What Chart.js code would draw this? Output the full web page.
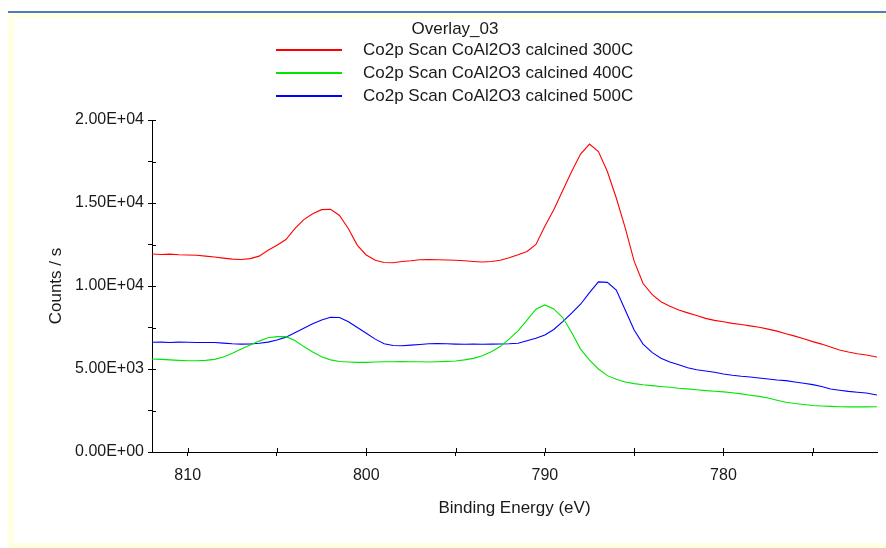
<!DOCTYPE html>
<html>
<head>
<meta charset="utf-8">
<title>Overlay_03</title>
<script src="https://cdn.jsdelivr.net/npm/chart.js@4.4.1/dist/chart.umd.min.js"></script>
<style>
  html, body { margin: 0; padding: 0; background: #fff; }
  body { width: 886px; height: 548px; position: relative; overflow: hidden; }
  .frame { position: absolute; left: 8px; top: 11px; right: 0; bottom: 0; background: #ffffe1; border-top: 2px solid #4d7cc4; }
  .panel { position: absolute; left: 6px; top: 5px; right: 0; bottom: 5px; background: #fff; }
  #spectra { position: absolute; left: 0; top: 0; }
</style>
</head>
<body>
<div class="frame"><div class="panel"></div></div>
<canvas id="spectra" width="886" height="548"></canvas>
<script>
// ---- Co2p overlay: three calcination temperatures ----
const chartTitle = 'Overlay_03';
const seriesLabels = [
  'Co2p Scan CoAl2O3 calcined 300C',
  'Co2p Scan CoAl2O3 calcined 400C',
  'Co2p Scan CoAl2O3 calcined 500C'
];
const seriesColors = ['#ff0000', '#00e600', '#0000ff'];

// binding energy (eV), high -> low
const energy = [
  812, 811.5, 811, 810.5, 810, 809.5, 809, 808.5, 808, 807.5,
  807, 806.5, 806, 805.5, 805, 804.5, 804, 803.5, 803, 802.5,
  802, 801.5, 801, 800.5, 800, 799.5, 799, 798.5, 798, 797.5,
  797, 796.5, 796, 795.5, 795, 794.5, 794, 793.5, 793, 792.5,
  792, 791.5, 791, 790.5, 790, 789.5, 789, 788.5, 788, 787.5,
  787, 786.5, 786, 785.5, 785, 784.5, 784, 783.5, 783, 782.5,
  782, 781.5, 781, 780.5, 780, 779.5, 779, 778.5, 778, 777.5,
  777, 776.5, 776, 775.5, 775, 774.5, 774, 773.5, 773, 772.5,
  772, 771.4
];

// counts / s, in thousands
const k300 = [
  11.93, 11.90, 11.92, 11.88, 11.87, 11.85, 11.80, 11.75, 11.68, 11.62,
  11.60, 11.65, 11.80, 12.15, 12.45, 12.80, 13.45, 14.00, 14.35, 14.60,
  14.62, 14.25, 13.45, 12.45, 11.87, 11.55, 11.42, 11.40, 11.48, 11.52,
  11.58, 11.60, 11.58, 11.57, 11.55, 11.52, 11.48, 11.45, 11.48, 11.55,
  11.70, 11.88, 12.08, 12.50, 13.60, 14.60, 15.75, 16.90, 17.95, 18.55,
  18.10, 16.90, 15.30, 13.50, 11.50, 10.15, 9.50, 9.05, 8.78, 8.55,
  8.38, 8.22, 8.05, 7.93, 7.85, 7.75, 7.68, 7.60, 7.52, 7.40,
  7.28, 7.12, 6.98, 6.82, 6.65, 6.50, 6.32, 6.15, 6.02, 5.92,
  5.84, 5.72
];
const k400 = [
  5.60, 5.58, 5.55, 5.52, 5.50, 5.50, 5.52, 5.58, 5.72, 5.95,
  6.20, 6.45, 6.68, 6.88, 6.95, 6.95, 6.72, 6.35, 6.02, 5.74,
  5.55, 5.45, 5.42, 5.40, 5.40, 5.42, 5.44, 5.44, 5.45, 5.44,
  5.44, 5.42, 5.44, 5.46, 5.48, 5.55, 5.64, 5.80, 6.04, 6.35,
  6.80, 7.30, 7.95, 8.60, 8.86, 8.62, 8.10, 7.20, 6.20, 5.54,
  5.00, 4.60, 4.38, 4.22, 4.12, 4.05, 4.00, 3.95, 3.90, 3.84,
  3.80, 3.75, 3.70, 3.66, 3.62, 3.57, 3.50, 3.42, 3.35, 3.25,
  3.12, 3.00, 2.92, 2.86, 2.80, 2.77, 2.75, 2.73, 2.72, 2.72,
  2.72, 2.73
];
const k500 = [
  6.61, 6.62, 6.60, 6.62, 6.61, 6.60, 6.60, 6.60, 6.56, 6.52,
  6.50, 6.51, 6.55, 6.62, 6.75, 6.92, 7.18, 7.45, 7.72, 7.95,
  8.12, 8.10, 7.85, 7.50, 7.15, 6.80, 6.52, 6.42, 6.40, 6.44,
  6.48, 6.52, 6.53, 6.52, 6.50, 6.49, 6.50, 6.49, 6.50, 6.51,
  6.52, 6.55, 6.70, 6.85, 7.05, 7.38, 7.85, 8.36, 8.90, 9.60,
  10.25, 10.22, 9.75, 8.55, 7.35, 6.50, 6.00, 5.65, 5.42, 5.25,
  5.08, 4.95, 4.88, 4.80, 4.70, 4.62, 4.56, 4.52, 4.46, 4.40,
  4.34, 4.30, 4.22, 4.14, 4.06, 3.95, 3.80, 3.72, 3.65, 3.60,
  3.55, 3.43
];

const xTickValues = [810, 805, 800, 795, 790, 785, 780, 775];
const xRange = [771.4, 812];
const yRange = [0, 20000];

const FONT = '"Liberation Sans", Arial, sans-serif';
const ink = '#1a1a1a';
const axisColor = '#000';

// "2.00E+04" style labels
function sci(v) {
  return v.toExponential(2).toUpperCase().replace(/E([+-])(\d)$/, 'E$10$2');
}

function toPoints(vals) {
  return energy.map((e, i) => ({ x: e, y: vals[i] * 1000 }));
}

// legend block under the title, one row per scan
const overlayLegend = {
  id: 'overlayLegend',
  afterDraw(chart) {
    const ctx = chart.ctx;
    ctx.save();
    ctx.font = '17px ' + FONT;
    ctx.fillStyle = ink;
    ctx.textBaseline = 'middle';
    ctx.textAlign = 'center';
    ctx.fillText(chartTitle, 455, 29);
    ctx.textAlign = 'left';
    chart.data.datasets.forEach((ds, i) => {
      const y = 50 + i * 23;
      ctx.strokeStyle = ds.borderColor;
      ctx.lineWidth = 2;
      ctx.beginPath();
      ctx.moveTo(276, y);
      ctx.lineTo(342, y);
      ctx.stroke();
      ctx.fillText(ds.label, 363, y);
    });
    ctx.restore();
  }
};

// tick marks that cross the axis line (inner half)
const innerTicks = {
  id: 'innerTicks',
  afterDraw(chart) {
    const { ctx, chartArea, scales: { x, y } } = chart;
    ctx.save();
    ctx.strokeStyle = axisColor;
    ctx.lineWidth = 1;
    ctx.beginPath();
    x.ticks.forEach(t => {
      const px = Math.round(x.getPixelForValue(t.value)) + 0.5;
      ctx.moveTo(px, chartArea.bottom);
      ctx.lineTo(px, chartArea.bottom - 4);
    });
    y.ticks.forEach(t => {
      const py = Math.round(y.getPixelForValue(t.value)) + 0.5;
      ctx.moveTo(chartArea.left, py);
      ctx.lineTo(chartArea.left + 4, py);
    });
    ctx.stroke();
    ctx.restore();
  }
};

new Chart(document.getElementById('spectra'), {
  type: 'line',
  data: {
    datasets: [k300, k400, k500].map((vals, i) => ({
      label: seriesLabels[i],
      data: toPoints(vals),
      borderColor: seriesColors[i],
      borderWidth: 1.1,
      pointRadius: 0,
      tension: 0,
      fill: false
    }))
  },
  options: {
    responsive: false,
    animation: false,
    devicePixelRatio: 1,
    layout: { padding: { top: 120, right: 9, left: 0, bottom: 0 } },
    plugins: { legend: { display: false }, title: { display: false }, tooltip: { enabled: false } },
    scales: {
      x: {
        type: 'linear',
        reverse: true,
        min: xRange[0], max: xRange[1],
        afterBuildTicks: s => { s.ticks = xTickValues.map(v => ({ value: v })); },
        afterFit: s => { s.height = 96; },
        grid: { drawOnChartArea: false, tickLength: 4, color: axisColor },
        border: { color: axisColor, width: 1 },
        ticks: {
          autoSkip: false, maxRotation: 0, padding: 10, color: ink,
          font: { family: FONT, size: 16 },
          callback: v => (v % 10 === 0 ? String(v) : '')
        },
        title: {
          display: true, text: 'Binding Energy (eV)', color: ink,
          font: { family: FONT, size: 17 }, padding: { top: 0, bottom: 29 }
        }
      },
      y: {
        min: yRange[0], max: yRange[1],
        afterFit: s => { s.width = 152; },
        grid: { drawOnChartArea: false, tickLength: 4, color: axisColor },
        border: { color: axisColor, width: 1 },
        ticks: {
          stepSize: 2500, padding: 4, color: ink,
          font: { family: FONT, size: 16 },
          callback: v => (v % 5000 === 0 ? sci(v) : '')
        },
        title: {
          display: true, text: 'Counts / s', color: ink,
          font: { family: FONT, size: 17 }, padding: { top: 46, bottom: 0 }
        }
      }
    }
  },
  plugins: [overlayLegend, innerTicks]
});
</script>
</body>
</html>
